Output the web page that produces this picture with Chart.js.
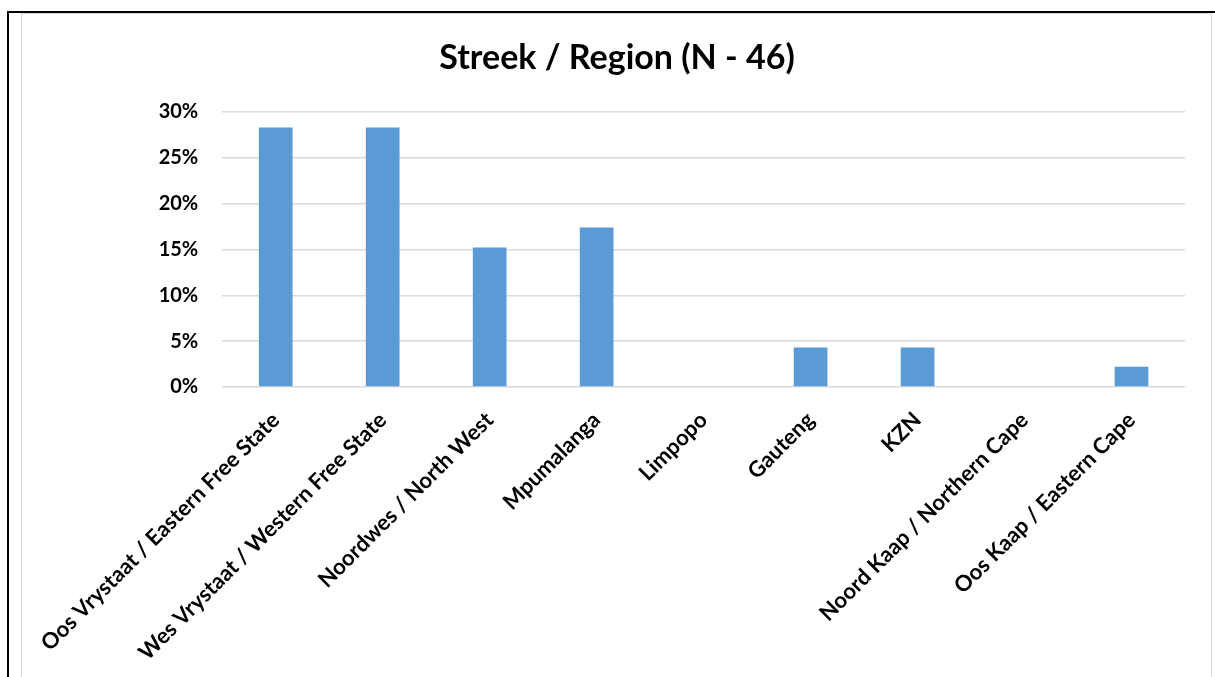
<!DOCTYPE html>
<html>
<head>
<meta charset="utf-8">
<script src="https://cdn.jsdelivr.net/npm/chart.js@4/dist/chart.umd.min.js"></script>
<style>
    html, body { margin: 0; padding: 0; background: #fff; }
    body { width: 1215px; height: 677px; position: relative; overflow: hidden; }
    .edge-top { position: absolute; left: 8px; top: 11px; width: 1207px; height: 2px; background: #000; }
    .edge-left { position: absolute; left: 7px; top: 11px; width: 2px; height: 666px; background: #000; }
    .frame { position: absolute; left: 21px; top: 13px; width: 1191px; height: 680px; border: 1px solid #d9d9d9; box-sizing: border-box; }
    #wrap { position: absolute; left: 22px; top: 14px; width: 1190px; height: 663px; }
</style>
</head>
<body>
<div class="edge-top"></div>
<div class="edge-left"></div>
<div class="frame"></div>
<div id="wrap"><canvas id="regionChart"></canvas></div>
<script>
// Streek / Region, share of respondents (N = 46)
const regions = [
    'Oos Vrystaat / Eastern Free State',
    'Wes Vrystaat / Western Free State',
    'Noordwes / North West',
    'Mpumalanga',
    'Limpopo',
    'Gauteng',
    'KZN',
    'Noord Kaap / Northern Cape',
    'Oos Kaap / Eastern Cape'
];
const shares = [28.3, 28.3, 15.2, 17.4, 0, 4.3, 4.3, 0, 2.2];
const yTicks = [0, 5, 10, 15, 20, 25, 30];
const chartTitle = 'Streek / Region (N - 46)';

const fontFamily = 'Lato, "Open Sans", sans-serif';

const ctx = document.getElementById('regionChart').getContext('2d');
new Chart(ctx, {
    type: 'bar',
    data: {
        labels: regions,
        datasets: [{
            data: shares,
            backgroundColor: '#5b9bd5',
            borderWidth: 0,
            barPercentage: 0.63,
            categoryPercentage: 0.5
        }]
    },
    options: {
        responsive: true,
        maintainAspectRatio: false,
        animation: false,
        layout: { padding: 0 },
        plugins: {
            legend: { display: false },
            tooltip: { enabled: false },
            title: {
                display: true,
                text: chartTitle,
                color: '#000',
                font: { family: fontFamily, size: 34, weight: 'bold', lineHeight: 1.2 },
                padding: { top: 24, bottom: 33 }
            }
        },
        scales: {
            x: {
                grid: { display: false },
                border: { display: false },
                ticks: {
                    color: '#000',
                    font: { family: fontFamily, size: 22, weight: 'bold' },
                    minRotation: 45,
                    maxRotation: 45,
                    autoSkip: false,
                    padding: 12
                },
                afterFit: (scale) => { scale.height = 290; }
            },
            y: {
                min: 0,
                max: 30,
                afterBuildTicks: (scale) => { scale.ticks = yTicks.map(v => ({ value: v })); },
                grid: { color: '#d9d9d9', lineWidth: 1.5, drawTicks: false },
                border: { display: false },
                ticks: {
                    color: '#000',
                    font: { family: fontFamily, size: 20, weight: 'bold' },
                    padding: 24,
                    callback: (v) => v + '%'
                },
                afterFit: (scale) => { scale.width = 199; }
            },
            // empty right-hand gutter so the title stays centred on the whole chart
            gutter: {
                type: 'linear',
                position: 'right',
                grid: { display: false },
                border: { display: false },
                ticks: { display: false },
                afterFit: (scale) => { scale.width = 27; }
            }
        }
    }
});
</script>
</body>
</html>
